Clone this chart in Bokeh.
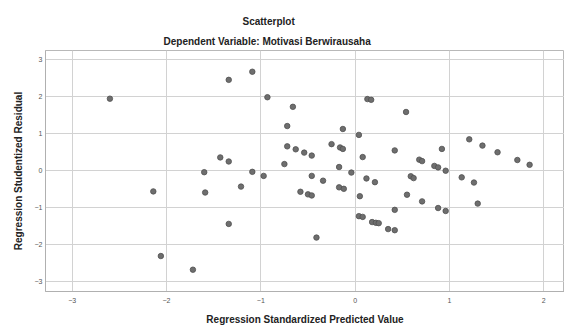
from bokeh.plotting import figure
from bokeh.models import Title, FixedTicker, Range1d, ColumnDataSource
from bokeh.embed import file_html
from bokeh.resources import INLINE

# Regression Standardized Predicted Value
pred = [-2.60, -1.34, -1.09, -0.93, -0.66, -0.72, -0.72, -0.63, -0.54, -0.46,
        -0.75, -1.43, -1.34, -1.60, -1.09, -0.97, -0.46, -2.14, -1.59, -1.21,
        -0.58, -0.50, -0.46, -1.34, -2.06, -1.72, 0.13, 0.17, 0.54, -0.13,
        0.04, -0.25, -0.16, -0.13, 0.08, 0.42, 1.21, 1.35, 1.51, 1.72,
        1.85, 0.92, 0.68, 0.71, 0.84, 0.88, 0.96, -0.17, -0.04, -0.34,
        0.12, 0.21, 0.59, 0.62, 1.13, 1.26, -0.17, -0.12, 0.05, 0.55,
        0.71, 0.88, 0.96, 1.30, 0.42, 0.04, 0.08, 0.18, 0.22, 0.25,
        0.35, 0.42, -0.41]
# Regression Studentized Residual
resid = [1.95, 2.46, 2.68, 1.99, 1.73, 1.21, 0.66, 0.58, 0.49, 0.41,
         0.18, 0.36, 0.25, -0.04, -0.03, -0.14, -0.14, -0.56, -0.59, -0.43,
         -0.57, -0.64, -0.67, -1.44, -2.31, -2.68, 1.94, 1.92, 1.59, 1.13,
         0.97, 0.72, 0.63, 0.59, 0.37, 0.55, 0.85, 0.68, 0.50, 0.29,
         0.16, 0.59, 0.30, 0.26, 0.13, 0.09, 0.00, 0.10, -0.05, -0.27,
         -0.21, -0.31, -0.15, -0.20, -0.18, -0.32, -0.45, -0.49, -0.69, -0.65,
         -0.83, -1.01, -1.09, -0.89, -1.06, -1.23, -1.25, -1.39, -1.41, -1.42,
         -1.58, -1.61, -1.81]

x_ticks = [-3, -2, -1, 0, 1, 2]
y_ticks = [-3, -2, -1, 0, 1, 2, 3]

title_text = "Scatterplot"
subtitle_text = "Dependent Variable: Motivasi Berwirausaha"
x_label = "Regression Standardized Predicted Value"
y_label = "Regression Studentized Residual"

FONT = "Liberation Sans"

p = figure(width=564, height=327, output_backend="svg", toolbar_location=None,
           x_range=Range1d(-3.283, 2.22), y_range=Range1d(-3.27, 3.255),
           min_border_left=45, min_border_top=50, min_border_bottom=34,
           min_border_right=0)
p.background_fill_color = "white"
p.border_fill_color = "white"
p.outline_line_color = "#b8b8b8"

src = ColumnDataSource(data=dict(x=pred, y=resid))
p.scatter("x", "y", source=src, size=5.5, fill_color="#6e6e6e", line_color="#505050",
          line_width=0.8)

for ax in (p.xaxis[0], p.yaxis[0]):
    ax.major_tick_out = 0
    ax.major_tick_in = 0
    ax.minor_tick_out = 0
    ax.minor_tick_in = 0
    ax.axis_line_color = "#b0b0b0"
    ax.major_label_text_font = FONT
    ax.major_label_text_font_size = "7px"
    ax.major_label_text_color = "#555555"
    ax.axis_label_text_font = FONT
    ax.axis_label_text_font_size = "10px"
    ax.axis_label_text_font_style = "bold"
    ax.axis_label_text_color = "#222222"

p.xaxis.ticker = FixedTicker(ticks=x_ticks)
p.yaxis.ticker = FixedTicker(ticks=y_ticks)
p.xaxis.axis_label = x_label
p.yaxis.axis_label = y_label
p.xaxis.major_label_standoff = 6
p.xaxis.axis_label_standoff = 8
p.yaxis.major_label_standoff = 3
p.yaxis.axis_label_standoff = 8

p.xgrid.ticker = FixedTicker(ticks=x_ticks)
p.ygrid.ticker = FixedTicker(ticks=y_ticks)
p.xgrid.grid_line_color = "#d2d2d2"
p.ygrid.grid_line_color = "#d2d2d2"

sub = Title(text=subtitle_text, align="left", offset=118, standoff=8,
            text_font=FONT, text_font_size="10px", text_font_style="bold",
            text_color="#222222")
ttl = Title(text=title_text, align="left", offset=197, standoff=6,
            text_font=FONT, text_font_size="10px", text_font_style="bold",
            text_color="#222222")
p.title = None
p.add_layout(sub, "above")
p.add_layout(ttl, "above")

open("out.html", "w").write(file_html(p, INLINE))
